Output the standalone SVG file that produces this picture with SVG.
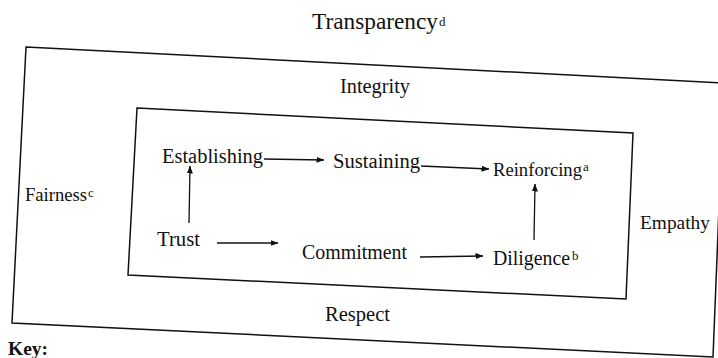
<svg xmlns="http://www.w3.org/2000/svg" width="718" height="358" viewBox="0 0 718 358">
<style>
  .t { font-family: "Liberation Serif", "Times New Roman", serif; font-size: 20px; fill: #111; }
  .sup { font-family: "Liberation Serif", "Times New Roman", serif; font-size: 13px; fill: #111; }
  .frame { fill: none; stroke: #111; stroke-width: 1.5; stroke-linejoin: miter; }
  .arr { fill: none; stroke: #111; stroke-width: 1.3; marker-end: url(#ah); }
</style>
<defs>
  <marker id="ah" markerUnits="userSpaceOnUse" markerWidth="8" markerHeight="6" refX="7.5" refY="3" orient="auto">
    <path d="M0,0 L8,3 L0,6 z" fill="#111"/>
  </marker>
</defs>
<rect x="0" y="0" width="718" height="358" fill="#fff"/>

<g id="outer-frame">
  <polygon class="frame" points="26,47 724,83 713,357 12,323"/>
</g>
<g id="inner-frame">
  <polygon class="frame" points="137,108 633,133 626,299 128,275"/>
</g>

<g id="transparency"><text class="t" x="312" y="29" style="font-size:23px" textLength="126" lengthAdjust="spacingAndGlyphs">Transparency</text><text class="sup" x="439" y="26">d</text></g>
<g id="integrity"><text class="t" x="340" y="93" textLength="70" lengthAdjust="spacingAndGlyphs">Integrity</text></g>
<g id="fairness"><text class="t" x="25" y="201" style="font-size:19px" textLength="62" lengthAdjust="spacingAndGlyphs">Fairness</text><text class="sup" x="88" y="197">c</text></g>
<g id="empathy"><text class="t" x="640" y="229" style="font-size:19.5px" textLength="70" lengthAdjust="spacingAndGlyphs">Empathy</text></g>
<g id="respect"><text class="t" x="325" y="321" style="font-size:20.5px" textLength="65" lengthAdjust="spacingAndGlyphs">Respect</text></g>

<g id="establishing"><text class="t" x="162" y="163" textLength="101" lengthAdjust="spacingAndGlyphs">Establishing</text></g>
<g id="sustaining"><text class="t" x="333" y="168" textLength="87" lengthAdjust="spacingAndGlyphs">Sustaining</text></g>
<g id="reinforcing"><text class="t" x="493" y="176" style="font-size:19px" textLength="89" lengthAdjust="spacingAndGlyphs">Reinforcing</text><text class="sup" x="583" y="171">a</text></g>
<g id="trust"><text class="t" x="157" y="246" textLength="43" lengthAdjust="spacingAndGlyphs">Trust</text></g>
<g id="commitment"><text class="t" x="302" y="259" textLength="105" lengthAdjust="spacingAndGlyphs">Commitment</text></g>
<g id="diligence"><text class="t" x="493" y="265" textLength="77" lengthAdjust="spacingAndGlyphs">Diligence</text><text class="sup" x="572" y="260">b</text></g>

<g id="connectors">
  <line class="arr" x1="264" y1="159" x2="324" y2="160"/>
  <line class="arr" x1="421" y1="166" x2="489" y2="169"/>
  <line class="arr" x1="189" y1="223" x2="190" y2="166"/>
  <line class="arr" x1="217" y1="243" x2="278" y2="243"/>
  <line class="arr" x1="420" y1="257" x2="483" y2="256"/>
  <line class="arr" x1="534" y1="240" x2="535" y2="184"/>
</g>

<g id="key"><text class="t" x="8" y="355" style="font-weight:bold;font-size:19.5px" textLength="40" lengthAdjust="spacingAndGlyphs">Key:</text></g>
</svg>
